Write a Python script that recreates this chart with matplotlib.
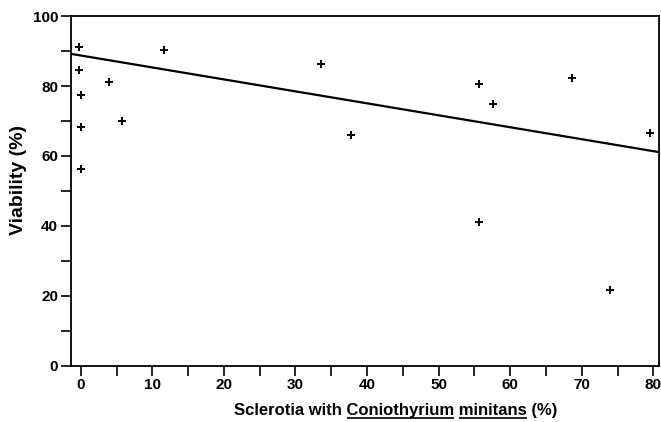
import matplotlib
matplotlib.use("Agg")
import matplotlib.pyplot as plt
from matplotlib.ticker import MultipleLocator
from matplotlib.font_manager import FontProperties
from matplotlib.lines import Line2D

plt.rcParams['font.family'] = ['Liberation Sans', 'DejaVu Sans']

# Data
sclerotia_pct = [-0.3, -0.2, 0.0, 0.0, 0.0, 3.9, 5.7, 11.6, 33.6, 37.7,
                 55.7, 57.6, 55.7, 68.7, 73.9, 79.6]
viability_pct = [91.1, 84.6, 77.4, 68.2, 56.4, 81.1, 70.1, 90.2, 86.3, 66.1,
                 80.7, 74.9, 41.0, 82.2, 21.6, 66.6]

fit_x = [-1.4, 80.8]
fit_y = [89.2, 61.1]

x_ticks = [0, 10, 20, 30, 40, 50, 60, 70, 80]
y_ticks = [0, 20, 40, 60, 80, 100]

xlabel_parts = ['Sclerotia with ', 'Coniothyrium', ' ', 'minitans', ' (%)']
xlabel_underlined = [False, True, False, True, False]
ylabel = 'Viability (%)'

W, H = 661, 422
fig = plt.figure(figsize=(W / 100, H / 100), dpi=100)
ax = fig.add_axes([0.107, 0.133, 0.890, 0.829])

ax.plot(fit_x, fit_y, color='black', lw=1.6, solid_capstyle='butt')
ax.plot(sclerotia_pct, viability_pct, linestyle='none', marker='+',
        color='black', markersize=6, markeredgewidth=1.4)

ax.set_xlim(-1.4, 80.8)
ax.set_ylim(0, 100)
ax.set_xticks(x_ticks)
ax.set_yticks(y_ticks)
ax.xaxis.set_minor_locator(MultipleLocator(5))
ax.yaxis.set_minor_locator(MultipleLocator(10))

for s in ax.spines.values():
    s.set_linewidth(1.3)

ax.tick_params(axis='both', which='both', direction='out', width=1.2,
               length=7, color='black')
ax.tick_params(axis='both', which='major', labelsize=11)
ax.tick_params(axis='x', pad=2)
ax.tick_params(axis='y', pad=2)
for lab in ax.get_xticklabels() + ax.get_yticklabels():
    lab.set_fontweight('bold')

fig.text(19 / W, 1 - 180 / H, ylabel, rotation=90,
         ha='center', va='center', fontsize=14, fontweight='bold')

# x label with underlined genus / species names
prop = FontProperties(family=['Liberation Sans', 'DejaVu Sans'],
                      weight='bold', size=12)
renderer = fig.canvas.get_renderer()

def text_width(s):
    w, h, d = renderer.get_text_width_height_descent(s, prop, ismath=False)
    return w

full = ''.join(xlabel_parts)
total_w = text_width(full)
center_px = 396
baseline_px = 415
x_start = center_px - total_w / 2
fig.text(x_start / W, 1 - baseline_px / H, full, fontproperties=prop,
         ha='left', va='baseline')

prefix = ''
for part, ul in zip(xlabel_parts, xlabel_underlined):
    x0 = x_start + text_width(prefix) if prefix else x_start
    x1 = x_start + text_width(prefix + part)
    if ul:
        yline = 1 - (baseline_px + 2.5) / H
        fig.add_artist(Line2D([x0 / W, x1 / W], [yline, yline],
                              transform=fig.transFigure, color='black',
                              lw=1.2, solid_capstyle='butt'))
    prefix += part

fig.savefig('out.png', dpi=100)
